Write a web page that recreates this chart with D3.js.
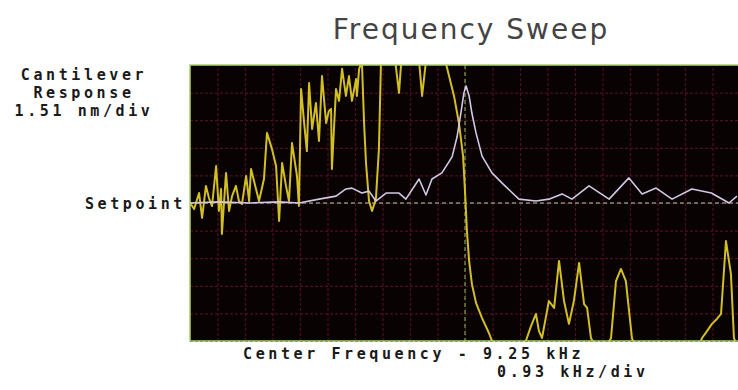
<!DOCTYPE html>
<html>
<head>
<meta charset="utf-8">
<script src="https://cdn.jsdelivr.net/npm/d3@7"></script>
<style>
  html, body { margin: 0; padding: 0; background: #fff; }
  svg { display: block; }
</style>
</head>
<body>
<div id="container"></div>
<script>
const width = 738;
const height = 390;

// x: divisions from center frequency (0.93 kHz/div), y: divisions from setpoint (1.51 nm/div)
const responseOffset = [-10, -8.95, -7.85, -6.76, -6.04, -5.31, -4.69, -4.33, -4.11, -3.75, -3.49, -3.24, -2.87, -2.4, -2.15, -1.67, -1.42, -1.2, -0.84, -0.47, -0.29, -0.15, -0.04, 0.04, 0.15, 0.25, 0.4, 0.62, 0.98, 1.35, 1.96, 2.58, 3.05, 3.53, 3.89, 4.51, 5.24, 5.96, 6.44, 6.95, 7.53, 8.25, 8.96, 9.6, 9.89];
const responseLevel = [0, 0.04, 0, 0.04, 0, 0.14, 0.25, 0.51, 0.54, 0.36, 0.43, 0.07, 0.36, 0.36, 0.14, 0.87, 0.29, 0.87, 1.09, 1.67, 2.39, 3.26, 3.99, 4.24, 3.88, 3.26, 2.54, 1.7, 1.09, 0.72, 0.14, 0.07, 0.14, 0.33, 0.14, 0.62, 0.14, 0.91, 0.33, 0.54, 0.14, 0.51, 0.36, 0, 0.25];

const phaseOffset = [-10.04, -9.85, -9.67, -9.56, -9.42, -9.31, -9.2, -9.05, -8.95, -8.87, -8.84, -8.69, -8.58, -8.47, -8.33, -8.22, -8.11, -7.96, -7.85, -7.78, -7.6, -7.49, -7.31, -7.2, -7.02, -6.87, -6.76, -6.65, -6.51, -6.4, -6.29, -6.11, -6.04, -5.96, -5.85, -5.75, -5.67, -5.56, -5.42, -5.31, -5.2, -5.05, -4.95, -4.87, -4.84, -4.69, -4.58, -4.47, -4.33, -4.22, -4.11, -3.96, -3.93, -3.85, -3.75, -3.67, -3.6, -3.49, -3.38, -3.24, -3.13, -3.05, -2.95, -2.58, -2.4, -2.29, -1.85, -1.67, -1.56, -1.42, -1.13, -0.76, -0.58, -0.4, -0.22, -0.07, 0, 0.07, 0.15, 0.25, 0.4, 0.62, 0.87, 1.05, 2.15, 2.25, 2.4, 2.58, 2.69, 2.8, 2.95, 3.05, 3.24, 3.42, 3.6, 3.78, 3.96, 4.15, 4.33, 4.44, 4.58, 4.73, 5.16, 5.31, 5.49, 5.67, 5.85, 6.07, 6.18, 8.51, 8.62, 8.8, 8.98, 9.16, 9.31, 9.49, 9.67, 9.78, 9.89];
const phaseLevel = [0.07, -0.22, 0.36, -0.54, 0.62, 0.18, -0.11, 1.34, -0.29, 0.51, -1.12, 1.09, -0.29, 0.25, 0.62, 0.07, -0.04, 0.98, 0.07, 1.23, 0.51, 0.07, 0.87, 2.54, 1.96, 1.34, -0.65, 1.45, 0.62, 0.07, 2.17, 0.98, -0.11, 4.13, 2.9, 1.88, 4.35, 2.68, 3.62, 2.25, 4.6, 2.9, 3.33, 3.41, 1.23, 4.13, 3.7, 4.86, 3.88, 4.6, 3.7, 4.49, 3.88, 4.86, 5.14, 2.9, 1.45, 0.07, -0.29, 0.14, 1.96, 5.33, 5.5, 5.5, 3.99, 5.5, 5.5, 5.14, 3.88, 5.14, 5.5, 5.33, 4.6, 3.88, 2.9, 1.7, 0.43, -1.01, -2.1, -2.93, -3.62, -4.17, -4.71, -5.18, -5.18, -4.89, -4.46, -4.02, -4.64, -4.89, -4.09, -3.55, -3.8, -2.1, -3.55, -4.38, -3.55, -2.17, -3.66, -3.8, -4.89, -5.18, -5.18, -4.89, -2.83, -2.39, -2.83, -4.89, -5.18, -5.18, -4.89, -4.64, -4.38, -4.2, -4.02, -1.38, -2.57, -4.89, -5.18];

const titleText = "Frequency Sweep";
const yLabelLines = ["Cantilever", "Response", "1.51 nm/div"];
const xLabelLines = ["Center Frequency - 9.25 kHz", "0.93 kHz/div"];

const plot = { left: 190, right: 740, top: 65, bottom: 341 };

const x = d3.scaleLinear().domain([-10, 10]).range([plot.left, plot.right]);
const y = d3.scaleLinear().domain([-5, 5]).range([plot.bottom, plot.top]);

let svg = d3.select("#container")
	.append("svg")
	.attr("width", width)
	.attr("height", height);

svg.append("defs").append("clipPath")
	.attr("id", "clip")
	.append("rect")
	.attr("x", plot.left)
	.attr("y", plot.top)
	.attr("width", plot.right - plot.left)
	.attr("height", plot.bottom - plot.top);

// screen background
svg.append("rect")
	.attr("x", plot.left)
	.attr("y", plot.top)
	.attr("width", plot.right - plot.left)
	.attr("height", plot.bottom - plot.top)
	.attr("fill", "#080203");

// grid, one line per division
svg.append("g")
	.attr("class", "grid")
	.attr("transform", "translate(0," + plot.bottom + ")")
	.call(d3.axisBottom(x).ticks(20).tickSize(-(plot.bottom - plot.top)).tickFormat(""));
svg.append("g")
	.attr("class", "grid")
	.attr("transform", "translate(" + plot.left + ",0)")
	.call(d3.axisLeft(y).ticks(10).tickSize(-(plot.right - plot.left)).tickFormat(""));
svg.selectAll(".grid .domain").remove();
svg.selectAll(".grid line")
	.attr("stroke", "#4f0f1e")
	.attr("stroke-width", 1.2)
	.attr("stroke-dasharray", "3,2");

// setpoint and center frequency markers
svg.append("line")
	.attr("x1", plot.left).attr("x2", plot.right)
	.attr("y1", y(0)).attr("y2", y(0))
	.attr("stroke", "#b9cdb0")
	.attr("stroke-width", 1)
	.attr("stroke-dasharray", "4,3");
svg.append("line")
	.attr("x1", x(0)).attr("x2", x(0))
	.attr("y1", plot.top).attr("y2", plot.bottom)
	.attr("stroke", "#74a844")
	.attr("stroke-width", 1.2)
	.attr("stroke-dasharray", "4,3");

const line = d3.line()
	.x(d => x(d[0]))
	.y(d => y(d[1]));

const plotArea = svg.append("g").attr("clip-path", "url(#clip)");

plotArea.append("path")
	.datum(d3.zip(phaseOffset, phaseLevel))
	.attr("fill", "none")
	.attr("stroke", "#d2bf24")
	.attr("stroke-width", 2)
	.attr("stroke-linejoin", "round")
	.attr("d", line);

plotArea.append("path")
	.datum(d3.zip(responseOffset, responseLevel))
	.attr("fill", "none")
	.attr("stroke", "#d0c8e4")
	.attr("stroke-width", 1.6)
	.attr("stroke-linejoin", "round")
	.attr("d", line);

// frame
svg.append("path")
	.attr("d", "M" + plot.right + "," + plot.top + "H" + plot.left + "V" + plot.bottom + "H" + plot.right)
	.attr("fill", "none")
	.attr("stroke", "#a6d46a")
	.attr("stroke-width", 1.5);

// texts
svg.append("text")
	.attr("x", 471)
	.attr("y", 39)
	.attr("text-anchor", "middle")
	.attr("font-family", "DejaVu Sans")
	.attr("font-size", 28)
	.attr("letter-spacing", 2)
	.attr("fill", "#444")
	.text(titleText);

const monoText = sel => sel
	.attr("font-family", "DejaVu Sans Mono")
	.attr("font-weight", "bold")
	.attr("font-size", 15)
	.attr("letter-spacing", 3.6)
	.attr("fill", "#1a1a1a");

svg.selectAll(".ylab")
	.data(yLabelLines)
	.enter()
	.append("text")
	.attr("class", "ylab")
	.attr("x", 84)
	.attr("y", (d, i) => 80 + i * 18)
	.attr("text-anchor", "middle")
	.call(monoText)
	.text(d => d);

svg.append("text")
	.attr("x", 186)
	.attr("y", 209)
	.attr("text-anchor", "end")
	.call(monoText)
	.text("Setpoint");

svg.append("text")
	.attr("x", 243)
	.attr("y", 359)
	.call(monoText)
	.text(xLabelLines[0]);
svg.append("text")
	.attr("x", 497)
	.attr("y", 377)
	.call(monoText)
	.text(xLabelLines[1]);
</script>
</body>
</html>
